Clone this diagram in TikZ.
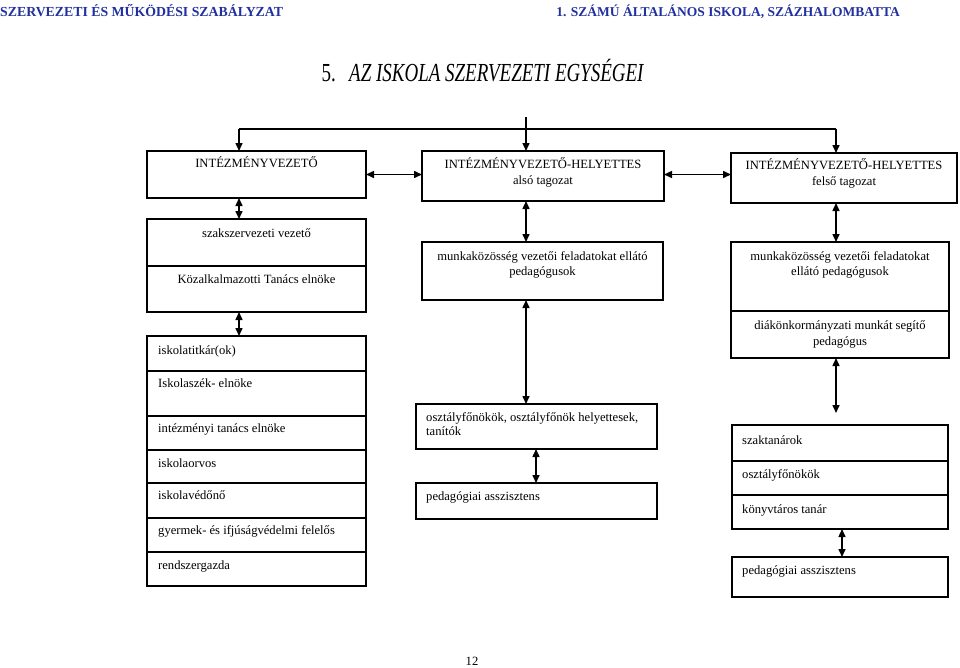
\documentclass[tikz,border=0pt]{standalone}
\usepackage{fontspec}
\setmainfont{Liberation Serif}
\usetikzlibrary{fit,arrows.meta}
\definecolor{hdr}{RGB}{32,48,160}
\tikzset{
  cell/.style={draw, line width=1.2pt, inner sep=0pt, outer sep=0pt},
  txt/.style={inner sep=0pt, font=\fontsize{12.6}{14}\selectfont},
  arr/.style={line width=1.5pt, -{Triangle[length=8pt,width=7pt]}},
  biarr/.style={line width=1.5pt, {Triangle[length=8pt,width=7pt]}-{Triangle[length=8pt,width=7pt]}},
  plain/.style={line width=1.4pt}
}
\newcommand\mybox[5]{\node[cell, fit={(#2,#3) (#4,#5)}] (#1) {};}
\begin{document}
\begin{tikzpicture}[x=1pt,y=-1pt]
\useasboundingbox (0,0) rectangle (960,667);
% headers
\node[inner sep=0pt, anchor=base west, text=hdr, font=\fontsize{13.8}{16}\selectfont\bfseries] (h1) at (0,16) {SZERVEZETI ÉS MŰKÖDÉSI SZABÁLYZAT};
\node[inner sep=0pt, anchor=base east, text=hdr, font=\fontsize{13.5}{16}\selectfont\bfseries] (h2) at (900,16) {1. SZÁMÚ ÁLTALÁNOS ISKOLA, SZÁZHALOMBATTA};
\node[inner sep=0pt, anchor=base] (title) at (483,81) {\scalebox{0.73}[1]{\fontsize{26}{30}\selectfont 5.\hspace{0.7em}\textit{AZ ISKOLA SZERVEZETI EGYSÉGEI}}};
% boxes
\mybox{b1}{147}{151}{366}{198}
\mybox{b2}{422}{151}{664}{201}
\mybox{b3}{731}{153}{957}{203}
\mybox{szak}{147}{219}{366}{266}
\mybox{kozalk}{147}{266}{366}{312}
\mybox{mk1}{422}{242}{663}{300}
\mybox{mk2}{731}{242}{949}{311}
\mybox{diak}{731}{311}{949}{358}
\mybox{titkar}{147}{336}{366}{371}
\mybox{iskszek}{147}{371}{366}{416}
\mybox{intez}{147}{416}{366}{450}
\mybox{orvos}{147}{450}{366}{483}
\mybox{vedono}{147}{483}{366}{518}
\mybox{gyermek}{147}{518}{366}{552}
\mybox{rendsz}{147}{552}{366}{586}
\mybox{ofo}{416}{404}{657}{449}
\mybox{ped1}{416}{483}{657}{519}
\mybox{szakt}{732}{425}{948}{461}
\mybox{ofo2}{732}{461}{948}{495}
\mybox{konyv}{732}{495}{948}{529}
\mybox{ped2}{732}{557}{948}{597}
% texts
\node[txt, anchor=base] (tb1) at (256.5,167) {INTÉZMÉNYVEZETŐ};
\node[txt, anchor=base] (tb2a) at (543,168) {INTÉZMÉNYVEZETŐ-HELYETTES};
\node[txt, anchor=base] (tb2b) at (543,184) {alsó tagozat};
\node[txt, anchor=base] (tb3a) at (844,169) {INTÉZMÉNYVEZETŐ-HELYETTES};
\node[txt, anchor=base] (tb3b) at (844,185) {felső tagozat};
\node[txt, anchor=base] (tszak) at (256.5,237) {szakszervezeti vezető};
\node[txt, anchor=base] (tkoz) at (256.5,283) {Közalkalmazotti Tanács elnöke};
\node[txt, anchor=base] (tmk1a) at (542.5,260) {munkaközösség vezetői feladatokat ellátó};
\node[txt, anchor=base] (tmk1b) at (542.5,275) {pedagógusok};
\node[txt, anchor=base] (tmk2a) at (840,260) {munkaközösség vezetői feladatokat};
\node[txt, anchor=base] (tmk2b) at (840,275) {ellátó pedagógusok};
\node[txt, anchor=base] (tdiaka) at (840,329) {diákönkormányzati munkát segítő};
\node[txt, anchor=base] (tdiakb) at (840,345) {pedagógus};
\node[txt, anchor=base west] (ttitk) at (158,354) {iskolatitkár(ok)};
\node[txt, anchor=base west] (tisk) at (158,387) {Iskolaszék- elnöke};
\node[txt, anchor=base west] (tint) at (158,432) {intézményi tanács elnöke};
\node[txt, anchor=base west] (torv) at (158,467) {iskolaorvos};
\node[txt, anchor=base west] (tved) at (158,499) {iskolavédőnő};
\node[txt, anchor=base west] (tgyer) at (158,534) {gyermek- és ifjúságvédelmi felelős};
\node[txt, anchor=base west] (trend) at (158,569) {rendszergazda};
\node[txt, anchor=base west] (tofoa) at (426,421) {osztályfőnökök, osztályfőnök helyettesek,};
\node[txt, anchor=base west] (tofob) at (426,435) {tanítók};
\node[txt, anchor=base west] (tped1) at (426,500) {pedagógiai asszisztens};
\node[txt, anchor=base west] (tszakt) at (742,444) {szaktanárok};
\node[txt, anchor=base west] (tofo2) at (742,478) {osztályfőnökök};
\node[txt, anchor=base west] (tkonyv) at (742,513) {könyvtáros tanár};
\node[txt, anchor=base west] (tped2) at (742,574) {pedagógiai asszisztens};
\node[txt, anchor=base] (page) at (472,665) {12};
% connector coordinates
\coordinate (top) at (526,117);
\coordinate (bus) at (526,129);
\coordinate (xa) at (239,0);
\coordinate (xc) at (836,0);
\coordinate (xd) at (536,0);
\coordinate (xe) at (842,0);
\coordinate (free) at (836,413);
\draw[plain] (bus -| xa) -- (bus -| xc);
\draw[arr] (top) -- (b2.north -| top);
\draw[arr] (bus -| xa) -- (b1.north -| xa);
\draw[arr] (bus -| xc) -- (b3.north -| xc);
\draw[biarr] (b1.east) -- (b1.east -| b2.west);
\draw[biarr] (b2.east |- b1.east) -- (b1.east -| b3.west);
\draw[biarr] (b1.south -| xa) -- (szak.north -| xa);
\draw[biarr] (b2.south -| top) -- (mk1.north -| top);
\draw[biarr] (b3.south -| xc) -- (mk2.north -| xc);
\draw[biarr] (kozalk.south -| xa) -- (titkar.north -| xa);
\draw[biarr] (mk1.south -| top) -- (ofo.north -| top);
\draw[biarr] (ofo.south -| xd) -- (ped1.north -| xd);
\draw[biarr] (diak.south -| xc) -- (free);
\draw[biarr] (konyv.south -| xe) -- (ped2.north -| xe);
\end{tikzpicture}
\end{document}
